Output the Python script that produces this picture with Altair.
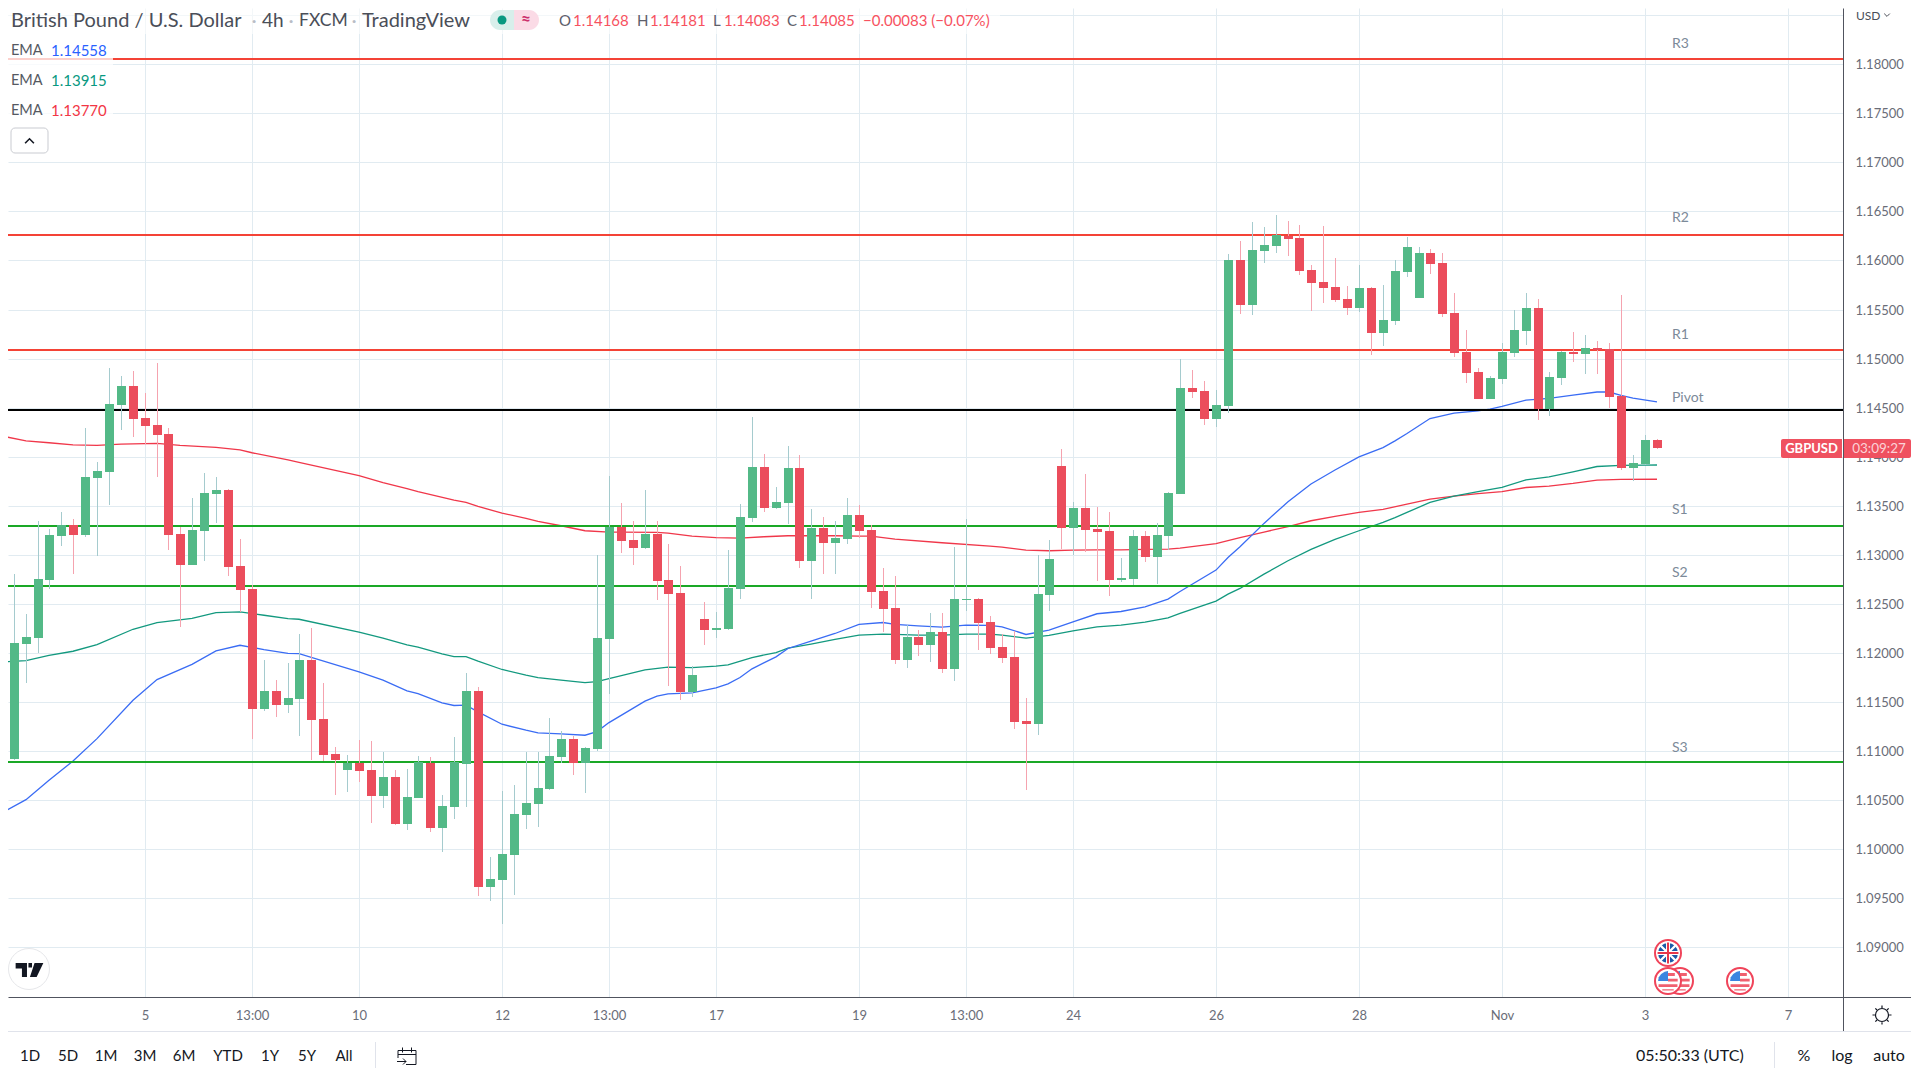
import altair as alt
import pandas as pd

FONT = "Lato"

directions = ("RGGGGGRGGG" "GRRRRRGGGR" "RRGRGGRRRG" "RRGRGGRGGG" "RGGGGGGGRG"
              "GGRRGRRRGR" "GGGGRGGRGR" "GGRRRRGRGR" "GGRRRRRGGR" "GRRRGGRGGG"
              "RRGGRGGGRR" "RRRRGRGGGG" "RRRRRGGGGR" "GGRGRRRGGR")

wick_high = [
 1.11629,1.12809,1.12394,1.13343,1.13261,1.13435,1.13363,1.14291,1.13945,1.14903,
 1.14822,1.14873,1.14648,1.14954,1.14291,1.13282,1.13577,1.13832,1.13792,1.13669,
 1.13159,1.12690,1.11925,1.11721,1.11894,1.12190,1.12251,1.11691,1.11039,1.10957,
 1.11110,1.11100,1.10988,1.10804,1.10814,1.10947,1.10937,1.10549,1.11141,1.11793,
 1.11651,1.09917,1.10590,1.10651,1.10988,1.10988,1.11334,1.11202,1.11151,1.11039,
 1.12997,1.13803,1.13527,1.13344,1.13660,1.13344,1.13109,1.12885,1.11865,1.12518,
 1.12416,1.13048,1.13517,1.14405,1.14027,1.13691,1.14109,1.14017,1.13466,1.13385,
 1.13344,1.13578,1.13507,1.13303,1.12864,1.12783,1.12283,1.12232,1.12405,1.12405,
 1.13079,1.13364,1.12558,1.12375,1.12191,1.12222,1.11538,1.12997,1.13150,1.14078,
 1.13538,1.13823,1.13487,1.13436,1.12966,1.13252,1.13242,1.13323,1.13640,1.14994,
 1.14882,1.14770,1.14678,1.16065,1.16198,1.16392,1.16341,1.16463,1.16402,1.16361,
 1.15953,1.16351,1.16024,1.15739,1.15953,1.15729,1.15749,1.16004,1.16239,1.16137,
 1.16116,1.16075,1.15667,1.15290,1.14902,1.14821,1.15158,1.15495,1.15668,1.15607,
 1.14863,1.15077,1.15271,1.15240,1.15179,1.15158,1.15648,1.14016,1.14220,1.14181]

body_top = [
 1.11272,1.12098,1.12160,1.12751,1.13200,1.13302,1.13302,1.13792,1.13853,1.14536,
 1.14720,1.14720,1.14393,1.14322,1.14230,1.13210,1.13251,1.13628,1.13659,1.13659,
 1.12884,1.12649,1.11609,1.11609,1.11537,1.11925,1.11925,1.11324,1.10967,1.10875,
 1.10875,1.10804,1.10733,1.10733,1.10529,1.10886,1.10875,1.10437,1.10886,1.11610,
 1.11610,1.09692,1.09947,1.10355,1.10467,1.10620,1.10947,1.11120,1.11120,1.11028,
 1.12150,1.13283,1.13283,1.13150,1.13211,1.13211,1.12742,1.12609,1.11773,1.12344,
 1.12252,1.12660,1.13385,1.13895,1.13895,1.13538,1.13884,1.13884,1.13272,1.13272,
 1.13170,1.13405,1.13405,1.13252,1.12630,1.12456,1.12161,1.12161,1.12212,1.12212,
 1.12548,1.12548,1.12548,1.12314,1.12059,1.11957,1.11304,1.12599,1.12956,1.13905,
 1.13476,1.13476,1.13262,1.13242,1.12762,1.13191,1.13191,1.13201,1.13629,1.14698,
 1.14698,1.14668,1.14525,1.16004,1.16004,1.16106,1.16157,1.16259,1.16249,1.16228,
 1.15902,1.15780,1.15729,1.15606,1.15718,1.15718,1.15392,1.15892,1.16137,1.16075,
 1.16075,1.15973,1.15463,1.15066,1.14862,1.14800,1.15067,1.15291,1.15515,1.15515,
 1.14812,1.15067,1.15067,1.15107,1.15107,1.15097,1.14618,1.13934,1.14169,1.14168]

body_bottom = [
 1.10915,1.10915,1.12088,1.12149,1.12741,1.13190,1.13200,1.13200,1.13781,1.13843,
 1.14526,1.14383,1.14312,1.14220,1.13200,1.12894,1.12894,1.13241,1.13618,1.12874,
 1.12639,1.11425,1.11425,1.11466,1.11466,1.11527,1.11313,1.10957,1.10906,1.10804,
 1.10794,1.10539,1.10539,1.10253,1.10253,1.10518,1.10212,1.10212,1.10427,1.10865,
 1.09611,1.09611,1.09682,1.09937,1.10345,1.10457,1.10610,1.10937,1.10875,1.10875,
 1.11018,1.12140,1.13140,1.13068,1.13068,1.12732,1.12599,1.11600,1.11600,1.12232,
 1.12232,1.12242,1.12650,1.13374,1.13476,1.13476,1.13527,1.12936,1.12936,1.13119,
 1.13119,1.13160,1.13242,1.12620,1.12446,1.11926,1.11926,1.12079,1.12079,1.11834,
 1.11834,1.12538,1.12303,1.12048,1.11946,1.11294,1.11273,1.11273,1.12589,1.13272,
 1.13272,1.13252,1.13232,1.12742,1.12742,1.12752,1.12977,1.12977,1.13191,1.13617,
 1.14658,1.14382,1.14382,1.14515,1.15545,1.15545,1.16096,1.16147,1.16218,1.15892,
 1.15769,1.15718,1.15596,1.15514,1.15514,1.15259,1.15259,1.15382,1.15882,1.15616,
 1.15963,1.15453,1.15055,1.14851,1.14586,1.14586,1.14791,1.15056,1.15281,1.14485,
 1.14485,1.14801,1.15046,1.15046,1.15084,1.14608,1.13883,1.13883,1.13924,1.14085]

wick_low = [
 1.10854,1.10905,1.11694,1.11996,1.12649,1.13088,1.12802,1.13180,1.12986,1.13506,
 1.14271,1.14200,1.14128,1.13792,1.13047,1.12262,1.12894,1.12935,1.13322,1.12782,
 1.12415,1.11119,1.11405,1.11344,1.11384,1.11150,1.10905,1.10896,1.10549,1.10580,
 1.10682,1.10263,1.10416,1.10243,1.10192,1.10518,1.10172,1.09968,1.10304,1.10427,
 1.09519,1.09468,1.09233,1.09529,1.10202,1.10223,1.10600,1.10875,1.10753,1.10569,
 1.10998,1.11579,1.13017,1.12895,1.13058,1.12538,1.11661,1.11518,1.11549,1.12079,
 1.12150,1.12232,1.12548,1.13334,1.13436,1.13466,1.13313,1.12864,1.12548,1.12803,
 1.12803,1.13109,1.13170,1.12456,1.12212,1.11885,1.11844,1.11967,1.11906,1.11793,
 1.11712,1.12426,1.12028,1.11987,1.11895,1.11222,1.10600,1.11161,1.12426,1.13058,
 1.12997,1.13028,1.12732,1.12579,1.12722,1.12691,1.12926,1.12701,1.13048,1.13617,
 1.14596,1.14321,1.14301,1.14443,1.15453,1.15443,1.15973,1.16075,1.16045,1.15851,
 1.15484,1.15565,1.15576,1.15443,1.15474,1.15035,1.15127,1.15341,1.15831,1.15616,
 1.15861,1.15423,1.15015,1.14749,1.14586,1.14586,1.14740,1.15016,1.15138,1.14373,
 1.14414,1.14730,1.14965,1.14842,1.14842,1.14495,1.13863,1.13751,1.13914,1.14083]

ema_blue_i = [0,2,4,6,8,11,13,16,18,20,22,24,25,30,32,34,35,37,38,39,40,42,44,45,47,49,50,51,
              54,55,56,58,60,61,62,63,65,66,68,70,72,74,75,77,79,81,83,84,86,88,90,92,94,96,98,
              99,102,103,104,106,108,110,112,114,116,117,118,120,122,124,125,126,128,130,132,134,135,136,137,139]
ema_blue = [1.10371,1.10504,1.10701,1.10898,1.11126,1.11517,1.11728,1.11884,1.12020,1.12078,1.12034,1.11996,1.11993,
            1.11807,1.11722,1.11613,1.11586,1.11491,1.11464,1.11467,1.11399,1.11273,1.11212,1.11185,1.11175,1.11161,1.11198,1.11290,
            1.11508,1.11559,1.11583,1.11593,1.11644,1.11685,1.11749,1.11838,1.11960,1.12045,1.12120,1.12198,1.12290,1.12310,1.12290,
            1.12276,1.12263,1.12283,1.12280,1.12266,1.12188,1.12232,1.12317,1.12399,1.12422,1.12470,1.12548,
            1.12626,1.12844,1.12973,1.13082,1.13320,1.13541,1.13721,1.13864,1.13998,1.14093,1.14161,1.14236,1.14389,1.14443,1.14467,
            1.14485,1.14512,1.14577,1.14594,1.14628,1.14659,1.14659,1.14625,1.14597,1.14558]

ema_teal_i = [0,2,4,6,8,11,13,16,18,20,22,24,25,30,32,34,35,37,38,39,40,42,44,45,47,49,50,51,
              54,56,58,60,61,63,65,66,68,70,72,74,75,77,79,81,83,84,86,88,90,92,94,96,98,
              99,102,103,104,106,108,110,112,114,116,117,118,120,122,124,126,128,130,132,134,136,138,139]
ema_teal = [1.11908,1.11922,1.11976,1.12017,1.12085,1.12241,1.12309,1.12353,1.12411,1.12418,1.12384,1.12350,1.12343,
            1.12212,1.12150,1.12082,1.12059,1.11991,1.11963,1.11963,1.11916,1.11831,1.11773,1.11749,1.11722,1.11698,1.11708,1.11739,
            1.11827,1.11855,1.11851,1.11865,1.11878,1.11953,1.12004,1.12048,1.12089,1.12137,1.12181,1.12191,1.12188,
            1.12181,1.12181,1.12191,1.12191,1.12181,1.12150,1.12178,1.12225,1.12266,1.12283,1.12314,1.12358,
            1.12402,1.12528,1.12599,1.12657,1.12803,1.12939,1.13055,1.13157,1.13245,1.13330,1.13378,1.13432,1.13534,1.13599,1.13643,1.13687,
            1.13764,1.13795,1.13846,1.13900,1.13911,1.13914,1.13915]

ema_red_i = [0,2,4,6,8,10,13,15,18,20,21,24,25,30,32,34,35,38,39,40,42,44,45,47,49,51,
             52,55,56,58,60,62,64,66,68,70,72,73,75,79,83,84,86,88,90,92,94,96,98,
             99,102,104,106,108,110,112,114,116,118,120,122,124,126,128,130,132,134,136,139]
ema_red = [1.14210,1.14162,1.14142,1.14121,1.14115,1.14128,1.14135,1.14115,1.14094,1.14070,1.14040,1.13968,1.13942,
           1.13806,1.13735,1.13674,1.13643,1.13558,1.13534,1.13493,1.13425,1.13371,1.13340,1.13296,1.13245,1.13232,
           1.13232,1.13228,1.13221,1.13191,1.13174,1.13170,1.13184,1.13194,1.13194,1.13194,1.13191,1.13191,1.13160,
           1.13123,1.13089,1.13079,1.13048,1.13041,1.13048,1.13051,1.13051,1.13055,1.13058,
           1.13068,1.13113,1.13174,1.13232,1.13286,1.13347,1.13391,1.13432,1.13463,1.13517,1.13568,1.13599,1.13623,1.13643,
           1.13686,1.13700,1.13727,1.13761,1.13768,1.13770]

level_values = [1.18057, 1.16259, 1.15087, 1.14475, 1.13292, 1.12680, 1.10885]
level_colors = ["#f44336", "#f44336", "#f44336", "#000000", "#1aa826", "#1aa826", "#1aa826"]
level_names = ["R3", "R2", "R1", "Pivot", "S1", "S2", "S3"]
level_label_y = [44, 218, 335, 398, 510, 573, 748]

price_ticks = [1.09, 1.095, 1.10, 1.105, 1.11, 1.115, 1.12, 1.125, 1.13, 1.135, 1.14, 1.145,
               1.15, 1.155, 1.16, 1.165, 1.17, 1.175, 1.18]
extra_grid_price = [1.185]
time_tick_i = [12, 21, 30, 42, 51, 60, 72, 81, 90, 102, 114, 126, 138, 150]
time_tick_labels = ["5", "13:00", "10", "12", "13:00", "17", "19", "13:00", "24", "26", "28", "Nov", "3", "7"]

GREEN, RED = "#53b987", "#eb4d5c"
WICK_G, WICK_R = "#a5cbce", "#f5a3af"
GRID = "#e1ebf1"
AXIS = "#50535e"
DARK = "#131722"

candles = pd.DataFrame({
    "i": list(range(len(directions))), "dir": list(directions),
    "high": wick_high, "top": body_top, "bottom": body_bottom, "low": wick_low,
})

x_scale = alt.Scale(domain=[0.5208, 154.657], nice=False, zero=False, round=True, padding=0)
y_round = alt.Scale(domain=[1.08493, 1.18573], nice=False, zero=False, round=True, padding=0)
y_smooth = alt.Scale(domain=[1.08493, 1.18573], nice=False, zero=False, padding=0)

label_lookup = "{" + ",".join(f"'{i}':'{t}'" for i, t in zip(time_tick_i, time_tick_labels)) + "}"
x_axis = alt.Axis(values=time_tick_i, labelExpr=label_lookup + "[format(datum.value,'d')]",
                  grid=True, gridColor=GRID, gridWidth=1, ticks=False, labelPadding=12,
                  labelFont=FONT, labelFontSize=13, labelColor="#6a6d78", domainColor=AXIS,
                  labelOverlap=False, title=None, labelFlush=False)
y_axis = alt.Axis(orient="right", values=price_ticks, format=".5f",
                  grid=True, gridColor=GRID, gridWidth=1, ticks=False, labelPadding=12,
                  labelFont=FONT, labelFontSize=13, labelColor="#6a6d78", domainColor=AXIS,
                  labelOverlap=False, title=None, labelFlush=False)

blank = alt.Data(values=[{"a": 1}])


def label(s, px, py, color=DARK, size=14, align="left", weight="normal"):
    return alt.Chart(blank).mark_text(text=s, align=align, baseline="middle", font=FONT, fontSize=size,
                                      color=color, fontWeight=weight).encode(
        x=alt.value(px - 8), y=alt.value(py - 8))


def box(x0, x1, y0, y1, fill="white", opacity=1.0, stroke=None, radius=0, **kw):
    args = dict(fill=fill, opacity=opacity, **kw)
    if stroke:
        args["stroke"] = stroke
        args["strokeWidth"] = 1
    if radius:
        args["cornerRadius"] = radius
    return alt.Chart(blank).mark_rect(**args).encode(
        x=alt.value(x0 - 8), x2=alt.value(x1 - 8), y=alt.value(y0 - 8), y2=alt.value(y1 - 8))


def hline(x0, x1, py, color):
    return alt.Chart(blank).mark_rule(color=color, strokeWidth=1).encode(
        x=alt.value(x0 - 8), x2=alt.value(x1 - 8), y=alt.value(py - 8 + 0.5))


def vline(px, y0, y1, color):
    return alt.Chart(blank).mark_rule(color=color, strokeWidth=1).encode(
        x=alt.value(px - 8 + 0.5), y=alt.value(y0 - 8), y2=alt.value(y1 - 8))


def icon(shape, px, py, d, fill=None, stroke=None, width=1.0):
    args = dict(shape=shape, size=d * d, opacity=1, filled=fill is not None)
    if fill:
        args["fill"] = fill
    if stroke:
        args["stroke"] = stroke
        args["strokeWidth"] = width
    else:
        args["strokeWidth"] = 0
    return alt.Chart(blank).mark_point(**args).encode(x=alt.value(px - 8), y=alt.value(py - 8))


def us_flag(px, py):
    return [
        icon("circle", px, py, 26, fill="white", stroke="#f0445a", width=2),
        icon("M0 -0.72H0.62V-0.46H0Z M0 -0.2H0.88V0.04H0Z M-0.86 0.3H0.86V0.54H-0.86Z M-0.52 0.76H0.52V0.86H-0.52Z",
             px, py, 22, fill="#f0606f"),
        icon("M-0.9 0L-0.84 -0.34L-0.62 -0.64L-0.3 -0.84L0 -0.9L0 0Z", px, py, 22, fill="#3b86e0"),
    ]


def uk_flag(px, py):
    return [
        icon("circle", px, py, 26, fill="white", stroke="#f0445a", width=2),
        icon("circle", px, py, 20, fill="#1d5aa8"),
        icon("M-0.7 -0.85L0.85 0.7L0.7 0.85L-0.85 -0.7Z M0.7 -0.85L0.85 -0.7L-0.7 0.85L-0.85 0.7Z", px, py, 22, fill="white"),
        icon("M-0.18 -0.95H0.18V-0.18H0.95V0.18H0.18V0.95H-0.18V0.18H-0.95V-0.18H-0.18Z", px, py, 22, fill="white"),
        icon("M-0.09 -0.95H0.09V-0.09H0.95V0.09H0.09V0.95H-0.09V0.09H-0.95V-0.09H-0.09Z", px, py, 22, fill="#e8374a"),
    ]


layers = []

# grid-carrying base layer and the extra top grid line
layers.append(alt.Chart(candles).mark_point(opacity=0, clip=True).encode(
    x=alt.X("i:Q", scale=x_scale, axis=x_axis),
    y=alt.Y("high:Q", scale=y_round, axis=y_axis)))
layers.append(alt.Chart(pd.DataFrame({"p": extra_grid_price})).mark_rule(color=GRID, strokeWidth=1, yOffset=0.5).encode(
    y=alt.Y("p:Q", scale=y_round, axis=None)))

# EMA lines
for idx, vals, col in [(ema_red_i, ema_red, "#f0374a"), (ema_teal_i, ema_teal, "#13997f"), (ema_blue_i, ema_blue, "#3a6cf4")]:
    layers.append(alt.Chart(pd.DataFrame({"i": idx, "v": vals})).mark_line(color=col, strokeWidth=1.3, clip=True).encode(
        x=alt.X("i:Q", scale=x_scale, axis=None),
        y=alt.Y("v:Q", scale=y_smooth, axis=None)))

# pivot levels
levels = pd.DataFrame({"v": level_values, "c": level_colors, "n": level_names})
layers.append(alt.Chart(levels).mark_rule(strokeWidth=2).encode(
    y=alt.Y("v:Q", scale=y_round, axis=None),
    color=alt.Color("c:N", scale=None, legend=None)))

# candles
is_up = alt.datum.dir == "G"
layers.append(alt.Chart(candles).mark_rule(strokeWidth=1, xOffset=0.5, clip=True).encode(
    x=alt.X("i:Q", scale=x_scale, axis=None),
    y=alt.Y("high:Q", scale=y_round, axis=None),
    y2="low:Q",
    color=alt.condition(is_up, alt.value(WICK_G), alt.value(WICK_R))))
layers.append(alt.Chart(candles).mark_bar(size=9, xOffset=0.5, clip=True, orient="vertical").encode(
    x=alt.X("i:Q", scale=x_scale, axis=None),
    y=alt.Y("top:Q", scale=y_round, axis=None),
    y2="bottom:Q",
    color=alt.condition(is_up, alt.value(GREEN), alt.value(RED))))

# level names
for n, py, in zip(level_names, level_label_y):
    layers.append(label(n, 1672, py, color="#7c8a99", size=14))

# header veil
layers.append(box(8, 1000, 8, 34, opacity=0.6))
layers.append(box(8, 113, 38, 122, opacity=0.75))

# title
TITLE = "#4a4e58"
layers += [
    label("British Pound / U.S. Dollar", 11, 21, TITLE, 20),
    label("·", 254, 21, "#b9bdc6", 20, "center"),
    label("4h", 262, 21, TITLE, 19),
    label("·", 291, 21, "#b9bdc6", 20, "center"),
    label("FXCM", 299, 21, TITLE, 17.5),
    label("·", 354, 21, "#b9bdc6", 20, "center"),
    label("TradingView", 362, 21, TITLE, 20),
]
# market-status pill
layers += [
    box(490, 514, 10, 30, fill="#d8efeb", cornerRadiusTopLeft=10, cornerRadiusBottomLeft=10),
    box(514, 539, 10, 30, fill="#fbdbe6", cornerRadiusTopRight=10, cornerRadiusBottomRight=10),
    icon("circle", 502, 20, 9, fill="#089981"),
    label("≈", 526, 20, "#cc2f6c", 17, "center", "bold"),
]
# OHLC
OHLC_RED = "#f7525f"
layers += [
    label("O", 559, 21, "#5d606b", 15), label("1.14168", 573, 21, OHLC_RED, 15),
    label("H", 637, 21, "#5d606b", 15), label("1.14181", 650, 21, OHLC_RED, 15),
    label("L", 713, 21, "#5d606b", 15), label("1.14083", 724, 21, OHLC_RED, 15),
    label("C", 787, 21, "#5d606b", 15), label("1.14085", 799, 21, OHLC_RED, 15),
    label("−0.00083 (−0.07%)", 863, 21, OHLC_RED, 15),
]
# EMA legend
for py, value, col in [(50.5, "1.14558", "#2962ff"), (80.5, "1.13915", "#089981"), (110.5, "1.13770", "#f23645")]:
    layers.append(label("EMA", 11, py, "#555962", 14.5))
    layers.append(label(value, 51, py, col, 15))
# collapse button
layers += [
    box(11, 48, 128, 153, stroke="#c9cbd1", radius=4),
    icon("M-0.8 0.4L0 -0.4L0.8 0.4", 29.5, 141, 11, stroke="#131722", width=1.6),
]

# price-axis extras
layers += [
    label("USD", 1856, 16, "#4a4e58", 12),
    icon("M-0.8 -0.4L0 0.4L0.8 -0.4", 1887, 15, 7, stroke="#4a4e58", width=1),
    vline(1843, 997, 1031, AXIS),
    hline(1843, 1911, 997, AXIS),
    hline(8, 1911, 1031, "#e0e3eb"),
    box(1781, 1842, 439, 458, fill="#ef5160", cornerRadiusTopLeft=2, cornerRadiusBottomLeft=2),
    box(1844, 1911, 439, 458, fill="#ef5160", cornerRadiusTopRight=2, cornerRadiusBottomRight=2),
    label("GBPUSD", 1811.5, 449, "white", 13, "center", "bold"),
    label("03:09:27", 1879, 449, "#fbd3d8", 13.5, "center"),
]

# event flags
layers += uk_flag(1668, 953)
layers += us_flag(1680, 981)
layers += us_flag(1668, 981)
layers += us_flag(1740, 981)

# logo
layers += [
    icon("circle", 29, 969, 41, fill="white", stroke="#e6e7ea", width=1),
    icon("M-0.66 -0.33H-0.12V0.33H-0.36V-0.07H-0.66Z M-0.05 -0.33H0.12V-0.12H-0.05Z M0.24 -0.33H0.66L0.34 0.33H0.02Z",
         29.5, 970, 42, fill=DARK),
]

# settings icon
layers += [
    icon("circle", 1882, 1015, 13, stroke=DARK, width=1.2),
    icon("M0 -1V-0.75 M0 0.75V1 M-1 0H-0.75 M0.75 0H1 M-0.7 -0.7L-0.53 -0.53 M0.7 -0.7L0.53 -0.53 M-0.7 0.7L-0.53 0.53 M0.7 0.7L0.53 0.53",
         1882, 1015, 19, stroke=DARK, width=1.2),
]

# bottom toolbar
for t, px in zip(["1D", "5D", "1M", "3M", "6M", "YTD", "1Y", "5Y", "All"],
                 [30, 68, 106, 145, 184, 228, 270, 307, 344]):
    layers.append(label(t, px, 1056, DARK, 15, "center"))
layers += [
    vline(375, 1042, 1068, "#e0e3eb"),
    icon("M-0.9 -0.55H0.9V0.85H-0.1 M-0.9 -0.55V0.2 M-0.9 -0.15H0.9 M-0.45 -0.85V-0.35 M0.45 -0.85V-0.35 M-1 0.55H-0.1 M-0.4 0.25L-0.1 0.55L-0.4 0.85",
         407, 1056, 20, stroke=DARK, width=1),
    label("05:50:33 (UTC)", 1636, 1056, DARK, 16),
    vline(1774, 1042, 1068, "#e0e3eb"),
    label("%", 1804, 1056, DARK, 16, "center"),
    label("log", 1842, 1056, DARK, 16, "center"),
    label("auto", 1889, 1056, DARK, 16, "center"),
]

chart = alt.layer(*layers).resolve_scale(x="independent", y="independent").properties(
    width=1835, height=989, background="white",
    autosize=alt.AutoSizeParams(type="none"),
    padding={"left": 0, "top": 0, "right": 69, "bottom": 71},
).configure_view(stroke=None)

chart.save("out.html", embed_options={"renderer": "svg", "actions": False})
